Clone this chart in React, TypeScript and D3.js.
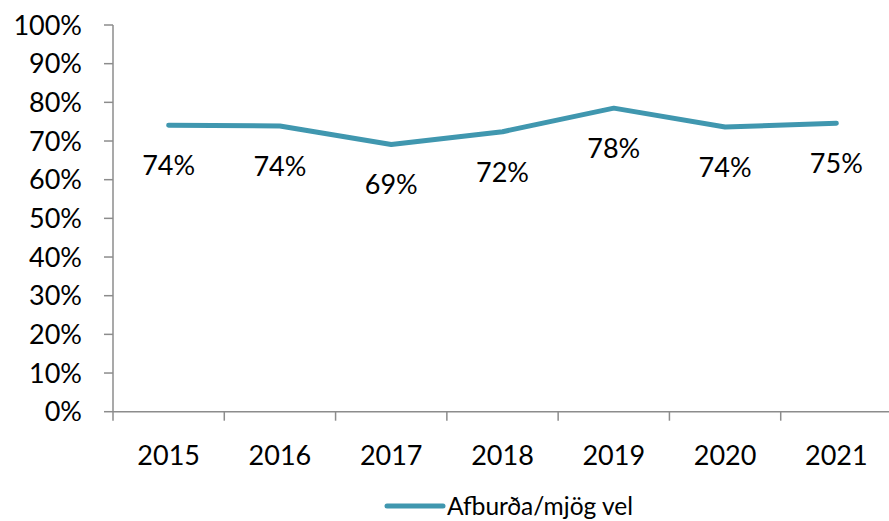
import React from 'react';
import * as d3 from 'd3';

const years = ['2015', '2016', '2017', '2018', '2019', '2020', '2021'];
const values = [0.741, 0.739, 0.691, 0.724, 0.785, 0.736, 0.746];
const labels = ['74%', '74%', '69%', '72%', '78%', '74%', '75%'];
const yTicks = [0, 0.1, 0.2, 0.3, 0.4, 0.5, 0.6, 0.7, 0.8, 0.9, 1];
const seriesName = 'Afburða/mjög vel';

const width = 889;
const height = 521;
const lineColor = '#4097AF';
const axisColor = '#8c8c8c';
const font = 'Lato, "Open Sans", sans-serif';

export default function App() {
    const x = d3.scaleBand().domain(years).range([113, 892]);
    const y = d3.scaleLinear().domain([0, 1]).range([411.7, 25]);
    const cx = (d: string) => (x(d) || 0) + x.bandwidth() / 2;

    const line = d3.line<number>()
        .x((d, i) => cx(years[i]))
        .y(d => y(d));

    const fmt = d3.format('.0%');

    return (
        <svg width={width} height={height}
             style={{position: 'absolute', left: 0, top: 0, background: '#fff'}}
             fontFamily={font}>
            {/* y axis */}
            <line x1={113} x2={113} y1={y(1)} y2={y(0)} stroke={axisColor} strokeWidth={1.5} />
            {yTicks.map(t => (
                <g key={t}>
                    <line x1={104} x2={113} y1={y(t)} y2={y(t)} stroke={axisColor} strokeWidth={1.5} />
                    <text x={82} y={y(t)} dy="0.36em" textAnchor="end" fontSize={27} fill="#000">{fmt(t)}</text>
                </g>
            ))}
            {/* x axis */}
            <line x1={113} x2={892} y1={y(0)} y2={y(0)} stroke={axisColor} strokeWidth={1.5} />
            {years.concat(['']).map((d, i) => (
                <line key={'t' + i} x1={113 + i * x.step()} x2={113 + i * x.step()} y1={y(0)} y2={y(0) + 9}
                      stroke={axisColor} strokeWidth={1.5} />
            ))}
            {years.map(d => (
                <text key={d} x={cx(d)} y={465} textAnchor="middle" fontSize={27} fill="#000">{d}</text>
            ))}
            <path d={line(values) || ''} fill="none" stroke={lineColor} strokeWidth={5}
                  strokeLinecap="round" strokeLinejoin="round" />
            {values.map((v, i) => (
                <text key={'l' + i} x={cx(years[i])} y={y(v) + 50} textAnchor="middle" fontSize={27} fill="#000">
                    {labels[i]}
                </text>
            ))}
            {/* legend */}
            <line x1={387} x2={443} y1={506} y2={506} stroke={lineColor} strokeWidth={5} strokeLinecap="round" />
            <text x={447} y={515} fontSize={24.5} fill="#000">{seriesName}</text>
        </svg>
    );
}
